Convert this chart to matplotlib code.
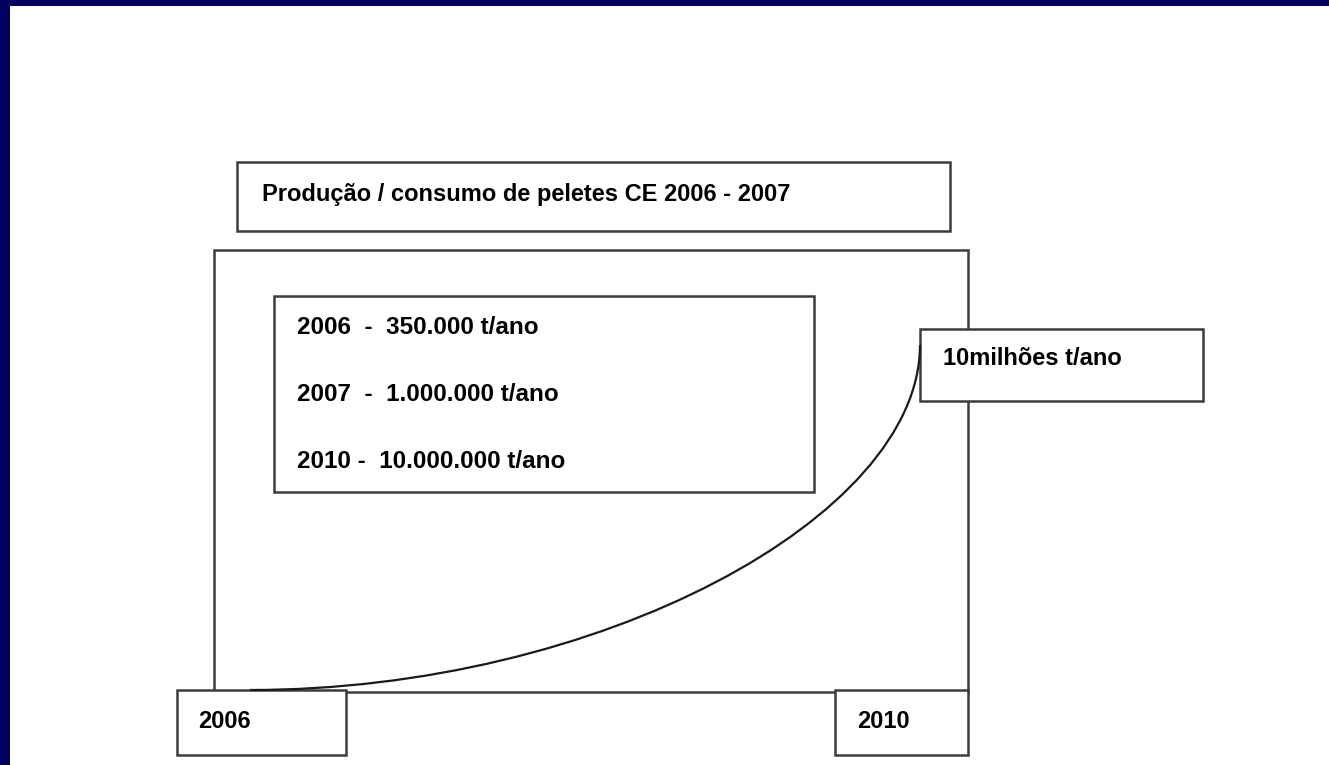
import matplotlib
matplotlib.use('Agg')
import matplotlib.pyplot as plt
from matplotlib.patches import Rectangle, PathPatch
from matplotlib.path import Path

# dados do diagrama
anos = [2006, 2007, 2010]
producao = ['350.000', '1.000.000', '10.000.000']
milhoes = [0.35, 1.0, 10.0]
titulo = 'Produção / consumo de peletes CE 2006 - 2007'
rotulo_fim = '10milhões t/ano'
rotulos_eixo = ['2006', '2010']

W, H = 1329, 765
fig = plt.figure(figsize=(W / 100, H / 100), dpi=100)
fig.patch.set_facecolor('white')

# axes em pixels para as caixas
ax = fig.add_axes([0, 0, 1, 1])
ax.set_xlim(0, W)
ax.set_ylim(H, 0)
ax.axis('off')

navy = '#000060'
edge = '#3c3c3c'
fnt = dict(family=['Liberation Sans', 'DejaVu Sans'], weight='bold', color='black')

# moldura azul
ax.add_patch(Rectangle((0, 0), W, 6, facecolor=navy, edgecolor='none', zorder=10))
ax.add_patch(Rectangle((0, 0), 10, H, facecolor=navy, edgecolor='none', zorder=10))


def caixa(x0, y0, x1, y1, z=2):
    ax.add_patch(Rectangle((x0, y0), x1 - x0, y1 - y0, facecolor='white',
                           edgecolor=edge, lw=1.8, zorder=z))


# titulo
caixa(237, 162, 950, 231)
ax.text(262, 194, titulo, fontsize=17, va='center', ha='left', **fnt)

# quadro principal
caixa(214, 250, 968, 692, z=1)

# caixa com valores
caixa(274, 296, 814, 492)
linhas = [
    '%d  -  %s t/ano' % (anos[0], producao[0]),
    '%d  -  %s t/ano' % (anos[1], producao[1]),
    '%d -  %s t/ano' % (anos[2], producao[2]),
]
for i, s in enumerate(linhas):
    ax.text(297, 327 + i * 67, s, fontsize=17.5, va='center', ha='left', **fnt)

# caixa 10 milhoes
caixa(920, 329, 1203, 401, z=3)
ax.text(943, 358, rotulo_fim, fontsize=17, va='center', ha='left', **fnt)

# caixas dos anos
caixa(177, 690, 346, 755, z=3)
caixa(835, 690, 968, 755, z=3)
ax.text(198, 722, rotulos_eixo[0], fontsize=17, va='center', ha='left', **fnt)
ax.text(857, 722, rotulos_eixo[1], fontsize=17, va='center', ha='left', **fnt)

# curva de crescimento
ax2 = fig.add_axes([250 / W, 1 - 690 / H, 670 / W, 345 / H])
ax2.set_xlim(anos[0], anos[-1])
ax2.set_ylim(milhoes[0], milhoes[-1])
ax2.axis('off')
x0, x1 = anos[0], anos[-1]
y0, y1 = milhoes[0], milhoes[-1]
verts = [(x0, y0), (x0 + 0.52 * (x1 - x0), y0), (x1, y0 + 0.5 * (y1 - y0)), (x1, y1)]
codes = [Path.MOVETO, Path.CURVE4, Path.CURVE4, Path.CURVE4]
ax2.add_patch(PathPatch(Path(verts, codes), facecolor='none', edgecolor='#1a1a1a',
                        lw=1.6, clip_on=False, zorder=5))

fig.savefig('out.png', dpi=100)
